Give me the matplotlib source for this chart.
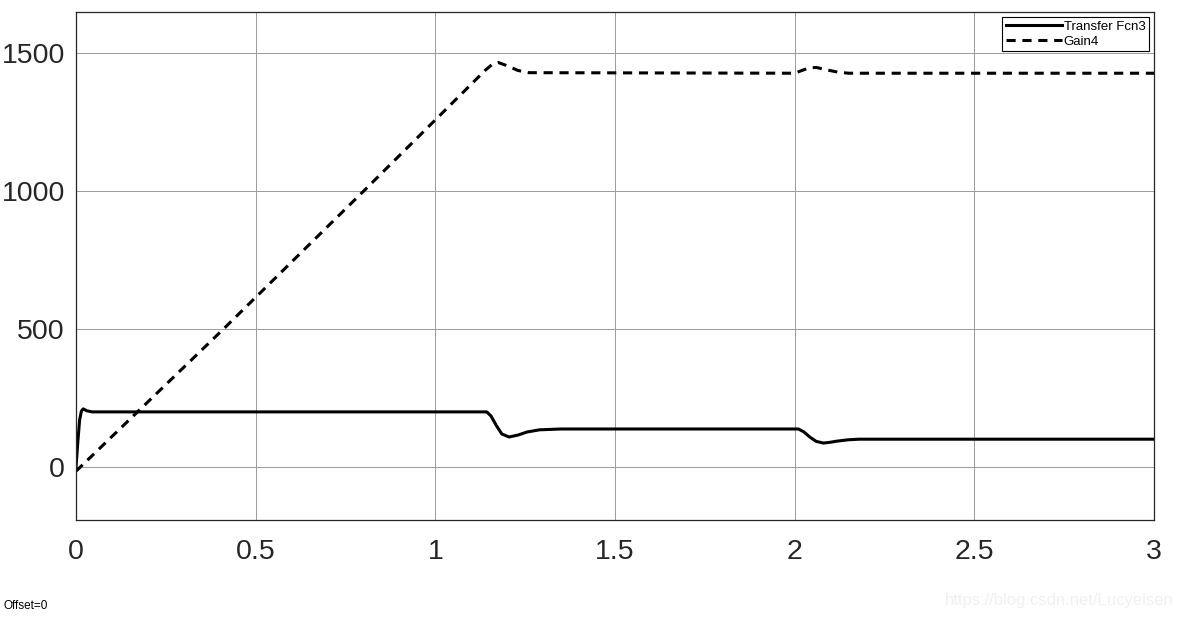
import matplotlib
matplotlib.use("Agg")
import matplotlib.pyplot as plt

plt.rcParams['font.family'] = ['Liberation Sans', 'DejaVu Sans']

# Transfer Fcn3 (solid)
t_fcn = [0, 0.005, 0.01, 0.015, 0.02, 0.03, 0.045, 1.143, 1.155, 1.17, 1.185, 1.205,
         1.23, 1.255, 1.29, 1.35, 2.01, 2.025, 2.043, 2.06, 2.08, 2.1, 2.118, 2.15, 2.18, 3.0]
v_fcn = [0, 90, 170, 203, 211, 204, 200, 200, 185, 150, 120, 109,
         116, 127, 135, 138, 138, 128, 108, 93, 87, 90, 94, 99, 101, 101]

# Gain4 (dashed)
t_gain = [0, 0.41, 0.80, 1.14, 1.16, 1.175, 1.2, 1.23, 1.26, 2.0, 2.02, 2.04,
          2.06, 2.09, 2.12, 2.15, 3.0]
v_gain = [-15, 500, 1000, 1440, 1462, 1467, 1455, 1438, 1430, 1428, 1438, 1447,
          1449, 1440, 1432, 1428, 1428]

xticks = [0, 0.5, 1, 1.5, 2, 2.5, 3]
xticklabels = ['0', '0.5', '1', '1.5', '2', '2.5', '3']
yticks = [0, 500, 1000, 1500]

fig = plt.figure(figsize=(11.82, 6.19), dpi=100)
ax = fig.add_axes([76/1182, 1-520/619, (1154-76)/1182, (520-12)/619])

ax.plot(t_fcn, v_fcn, color='black', lw=2.2, label='Transfer Fcn3')
ax.plot(t_gain, v_gain, color='black', lw=2.2, dashes=(3, 2.2), label='Gain4')

ax.set_xlim(0, 3)
ax.set_ylim(-192, 1650)
ax.set_xticks(xticks)
ax.set_xticklabels(xticklabels)
ax.set_yticks(yticks)
ax.grid(True, color='#9a9a9a', lw=0.7)
ax.tick_params(length=0, labelsize=20.5, labelcolor='#262626')
ax.tick_params(axis='x', pad=14)
ax.tick_params(axis='y', pad=8)
for s in ax.spines.values():
    s.set_color('#262626')
    s.set_linewidth(0.9)

leg = ax.legend(loc='upper right', fontsize=9.5, fancybox=False, edgecolor='black',
                framealpha=1, handlelength=4.3, handletextpad=0.1, borderpad=0.25,
                labelspacing=0.2, borderaxespad=0.4)
leg.get_frame().set_linewidth(0.8)

fig.text(4/1182, 1-606/619, 'Offset=0', fontsize=8.5, va='center', ha='left')
fig.text(1174/1182, 1-600/619, 'https://blog.csdn.net/Lucyeisen', fontsize=12,
         color='#f0f0f0', va='center', ha='right')

fig.savefig('out.png', dpi=100)
